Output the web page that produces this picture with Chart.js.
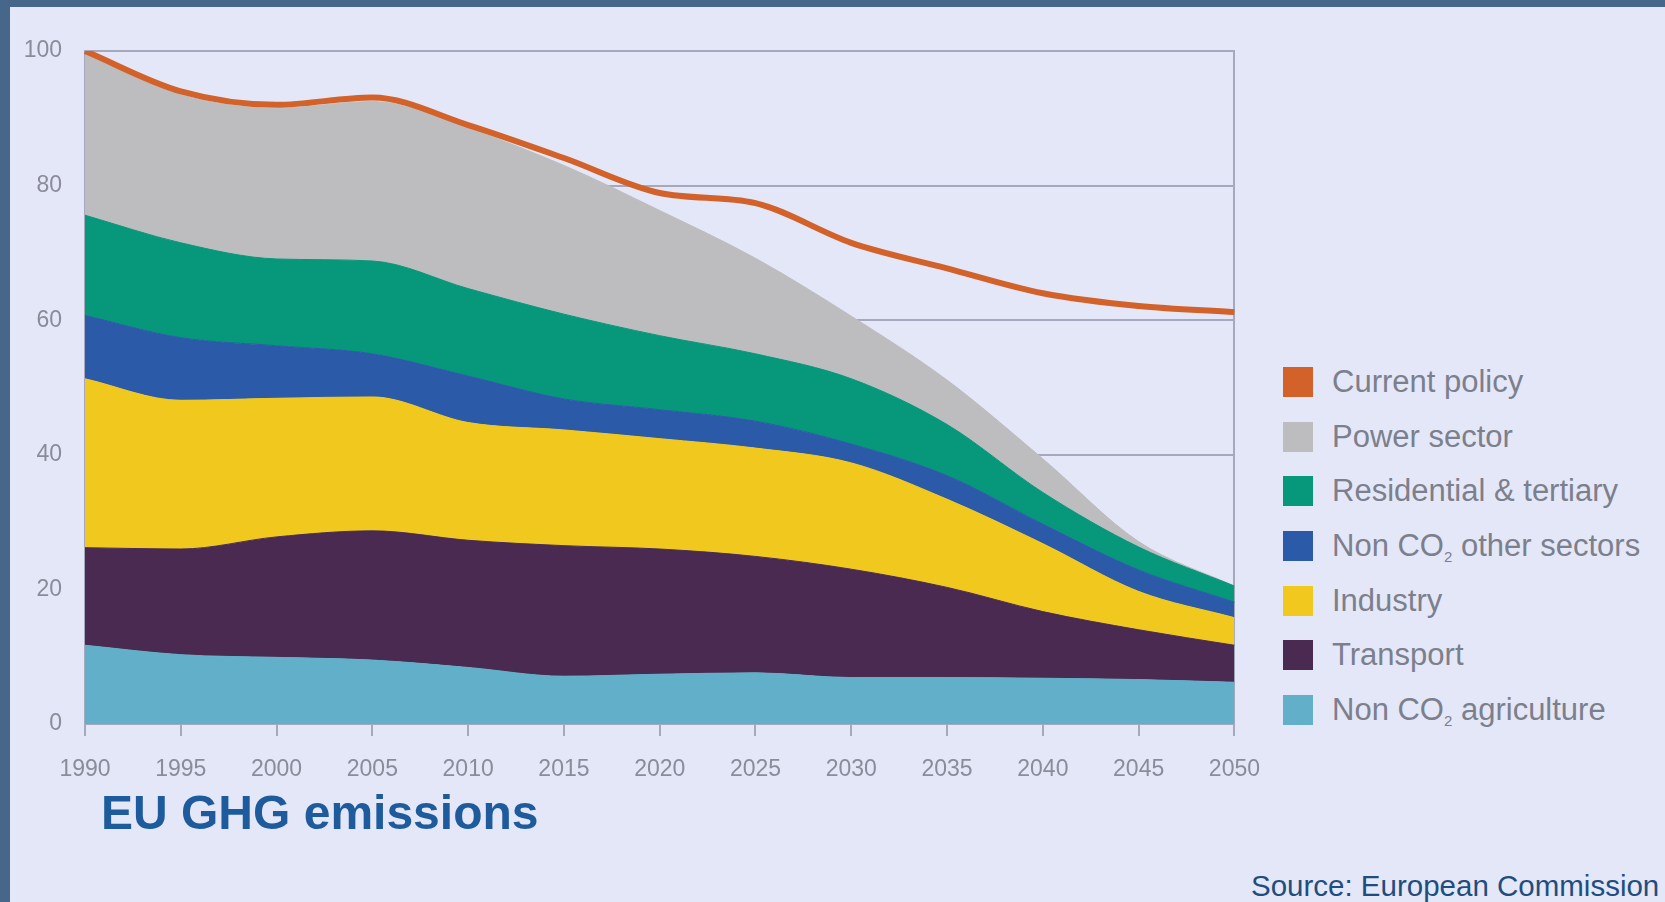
<!DOCTYPE html>
<html>
<head>
<meta charset="utf-8">
<script src="https://cdn.jsdelivr.net/npm/chart.js@4"></script>
<style>
  html, body { margin: 0; padding: 0; }
  body {
    width: 1665px; height: 902px; overflow: hidden; position: relative;
    background: #e4e7f8;
    font-family: "Liberation Sans", Arial, sans-serif;
  }
  .frame-top { position: absolute; left: 0; top: 0; width: 1665px; height: 7px; background: #46678a; }
  .frame-left { position: absolute; left: 0; top: 0; width: 10px; height: 902px; background: #46678a; }
  #chartBox { position: absolute; left: 0; top: 0; width: 1280px; height: 800px; }
  #legend { position: absolute; left: 1283px; top: 367px; }
  .item { display: flex; align-items: center; height: 30px; margin-bottom: 24.7px; }
  .swatch { width: 30px; height: 30px; margin-right: 19px; }
  .label { font-size: 31px; color: #7c7f8c; white-space: nowrap; line-height: 30px; }
  .label sub { font-size: 15px; vertical-align: -6px; line-height: 0; }
  #title { position: absolute; left: 101px; top: 785px; font-size: 48px; font-weight: bold; color: #1d5b9d; white-space: nowrap; }
  #source { position: absolute; left: 1251px; top: 869px; font-size: 29.5px; color: #1f4e7e; white-space: nowrap; }
</style>
</head>
<body>
<div class="frame-top"></div>
<div class="frame-left"></div>
<div id="chartBox"><canvas id="ghgChart"></canvas></div>
<div id="legend"></div>
<div id="title">EU GHG emissions</div>
<div id="source">Source: European Commission</div>

<script>
// values, % of 1990 emissions
const years = ['1990', '1995', '2000', '2005', '2010', '2015', '2020', '2025', '2030', '2035', '2040', '2045', '2050'];

const currentPolicy  = [100, 94.0, 92.0, 93.1, 89.0, 84.1, 78.9, 77.4, 71.5, 67.7, 64.0, 62.1, 61.2];
const powerSector    = [23.9, 22.0, 22.4, 23.7, 23.8, 22.1, 18.6, 14.2, 9.3, 6.6, 5.0, 0.8, 0];
const residential    = [14.9, 14.1, 12.9, 13.8, 13.0, 12.6, 11.0, 10.0, 9.7, 7.6, 4.7, 3.4, 2.4];
const nonCO2Other    = [9.4, 9.3, 7.8, 6.4, 6.9, 4.6, 4.3, 4.0, 2.8, 3.5, 2.9, 3.2, 2.3];
const industry       = [25.1, 22.1, 20.6, 19.9, 17.5, 17.2, 16.4, 16.1, 15.8, 13.1, 10.1, 5.7, 4.1];
const transport      = [14.5, 15.7, 17.9, 19.2, 18.9, 19.4, 18.6, 17.3, 16.1, 13.4, 9.9, 7.4, 5.5];
const nonCO2Agri     = [11.7, 10.3, 9.9, 9.5, 8.4, 7.1, 7.4, 7.6, 6.9, 6.9, 6.8, 6.6, 6.2];

const yTicks = [0, 20, 40, 60, 80, 100];

const COLORS = {
    policy: '#d2622a',
    power: '#bdbdbf',
    residential: '#07977a',
    nonCO2Other: '#2a5aa8',
    industry: '#f0c81e',
    transport: '#4a2a50',
    agri: '#61afc9'
};

const GRID = '#a6a9bd';
const TICK_TEXT = '#8a8c99';

Chart.defaults.font.family = '"Liberation Sans", Arial, sans-serif';

function area(label, data, color, fill) {
    return {
        label: label,
        data: data,
        backgroundColor: color,
        borderColor: color,
        borderWidth: 1,
        pointRadius: 0,
        fill: fill,
        cubicInterpolationMode: 'monotone',
        order: 1
    };
}

const datasets = [
    area('Non CO2 agriculture', nonCO2Agri, COLORS.agri, 'origin'),
    area('Transport', transport, COLORS.transport, '-1'),
    area('Industry', industry, COLORS.industry, '-1'),
    area('Non CO2 other sectors', nonCO2Other, COLORS.nonCO2Other, '-1'),
    area('Residential & tertiary', residential, COLORS.residential, '-1'),
    area('Power sector', powerSector, COLORS.power, '-1'),
    {
        label: 'Current policy',
        data: currentPolicy,
        stack: 'policy',
        borderColor: COLORS.policy,
        backgroundColor: COLORS.policy,
        borderWidth: 6,
        pointRadius: 0,
        fill: false,
        cubicInterpolationMode: 'monotone',
        order: 0
    }
];

const ctx = document.getElementById('ghgChart').getContext('2d');

new Chart(ctx, {
    type: 'line',
    data: { labels: years, datasets: datasets },
    options: {
        responsive: true,
        maintainAspectRatio: false,
        animation: false,
        layout: { padding: { top: 51, right: 0, left: 0, bottom: 0 } },
        plugins: {
            legend: { display: false },
            tooltip: { enabled: false }
        },
        scales: {
            x: {
                offset: false,
                grid: { drawOnChartArea: false, drawTicks: true, tickLength: 12, color: GRID, lineWidth: 2 },
                border: { display: true, color: GRID, width: 2 },
                ticks: { color: TICK_TEXT, font: { size: 23 }, padding: 20, maxRotation: 0, autoSkip: false },
                afterFit: s => { s.height = 76; }
            },
            y: {
                stacked: true,
                min: 0,
                max: 100,
                afterBuildTicks: s => { s.ticks = yTicks.map(v => ({ value: v })); },
                grid: { color: GRID, lineWidth: 2, drawTicks: false },
                border: { display: true, color: GRID, width: 2 },
                ticks: { color: TICK_TEXT, font: { size: 23 }, padding: 23 },
                afterFit: s => { s.width = 85; }
            },
            y1: {
                position: 'right',
                min: 0,
                max: 100,
                grid: { display: false, drawTicks: false },
                border: { display: true, color: GRID, width: 2 },
                ticks: { display: false },
                afterFit: s => { s.width = 0; }
            }
        }
    }
});

// legend, top to bottom as in the picture
const legendItems = [
    ['Current policy', COLORS.policy],
    ['Power sector', COLORS.power],
    ['Residential &amp; tertiary', COLORS.residential],
    ['Non CO<sub>2</sub> other sectors', COLORS.nonCO2Other],
    ['Industry', COLORS.industry],
    ['Transport', COLORS.transport],
    ['Non CO<sub>2</sub> agriculture', COLORS.agri]
];

document.getElementById('legend').innerHTML = legendItems.map(([text, color]) =>
    `<div class="item"><div class="swatch" style="background:${color}"></div><div class="label">${text}</div></div>`
).join('');
</script>
</body>
</html>
